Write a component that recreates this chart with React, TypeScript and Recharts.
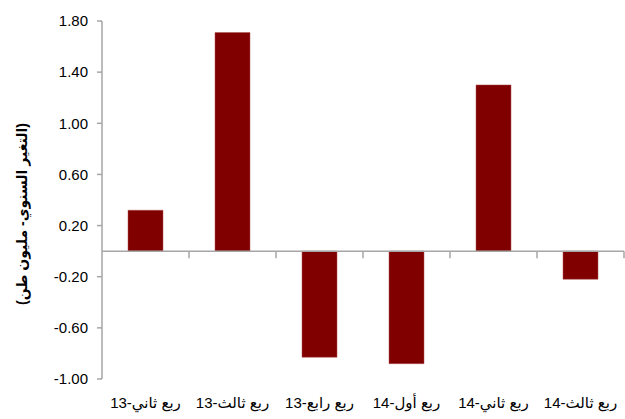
import { BarChart, Bar, XAxis, YAxis, ReferenceLine } from 'recharts';

const quarters = ['ربع ثاني-13', 'ربع ثالث-13', 'ربع رابع-13', 'ربع أول-14', 'ربع ثاني-14', 'ربع ثالث-14'];
const changes = [0.32, 1.71, -0.83, -0.88, 1.3, -0.22];
const yTicks = [-1.0, -0.6, -0.2, 0.2, 0.6, 1.0, 1.4, 1.8];
const yTitle = '(التغير السنوي- مليون طن)';

const data = quarters.map((q, i) => ({ name: q, value: changes[i] }));

const AXIS = '#a6a6a6';
const FONT = '"Liberation Sans", Arial, "DejaVu Sans", sans-serif';
const TICK_FONT_SIZE = 15;

let ctx: CanvasRenderingContext2D | null = null;
const measure = (s: string) => {
  if (!ctx) ctx = document.createElement('canvas').getContext('2d');
  if (!ctx) return s.length * 8;
  ctx.font = `${TICK_FONT_SIZE}px ${FONT}`;
  return ctx.measureText(s).width;
};

// right-to-left label drawn word by word: "13-" on the left, then the words
const QuarterTick = (props: any) => {
  const { x, y, payload } = props;
  const [words, year] = String(payload.value).split('-');
  const pieces = [year + '-', ...words.split(' ').reverse()];
  const gap = measure(' ');
  const widths = pieces.map(measure);
  const total = widths.reduce((a, b) => a + b, 0) + gap * (pieces.length - 2);
  let cx = x - total / 2;
  return (
    <g>
      {pieces.map((p, i) => {
        const px = cx;
        cx += widths[i] + (i > 0 ? gap : 0);
        return (
          <text
            key={i}
            x={px}
            y={y + 29}
            textAnchor="start"
            fontFamily={FONT}
            fontSize={TICK_FONT_SIZE}
            fill="#000"
          >
            {p}
          </text>
        );
      })}
    </g>
  );
};

const ZeroLine = (props: any) => {
  const { x1, x2, y1 } = props;
  const step = (x2 - x1) / quarters.length;
  return (
    <g>
      <line x1={x1} x2={x2} y1={y1} y2={y1} stroke={AXIS} strokeWidth={1.5} />
      {quarters.map((_, i) => (
        <line
          key={i}
          x1={x1 + step * (i + 1)}
          x2={x1 + step * (i + 1)}
          y1={y1}
          y2={y1 + 7}
          stroke={AXIS}
          strokeWidth={1.5}
        />
      ))}
    </g>
  );
};

const YTitle = () => (
  <text
    x={22}
    y={214}
    transform="rotate(-90 22 214)"
    textAnchor="middle"
    dominantBaseline="central"
    fontFamily={FONT}
    fontWeight="bold"
    fontSize={14}
    fill="#000"
  >
    {yTitle}
  </text>
);

export default function App() {
  return (
    <div style={{ position: 'absolute', left: 0, top: 0, background: '#fff' }}>
      <BarChart
        width={625}
        height={419}
        data={data}
        margin={{ top: 21, right: 1, bottom: 0, left: 0 }}
        barCategoryGap={0}
      >
        <XAxis
          dataKey="name"
          axisLine={false}
          tickLine={false}
          tickSize={0}
          tickMargin={0}
          height={40}
          interval={0}
          tick={<QuarterTick />}
        />
        <YAxis
          width={102}
          domain={[-1, 1.8]}
          ticks={yTicks}
          interval={0}
          tickFormatter={(v: number) => v.toFixed(2)}
          tickSize={5}
          tickMargin={9}
          axisLine={{ stroke: AXIS, strokeWidth: 1.5 }}
          tickLine={{ stroke: AXIS, strokeWidth: 1.5 }}
          tick={{ fill: '#000', fontSize: 15, fontFamily: FONT }}
        />
        <Bar
          dataKey="value"
          fill="#800000"
          stroke="#b05050"
          strokeWidth={0.5}
          barSize={35}
          isAnimationActive={false}
        />
        <ReferenceLine y={0} shape={ZeroLine} />
        <YTitle />
      </BarChart>
    </div>
  );
}
